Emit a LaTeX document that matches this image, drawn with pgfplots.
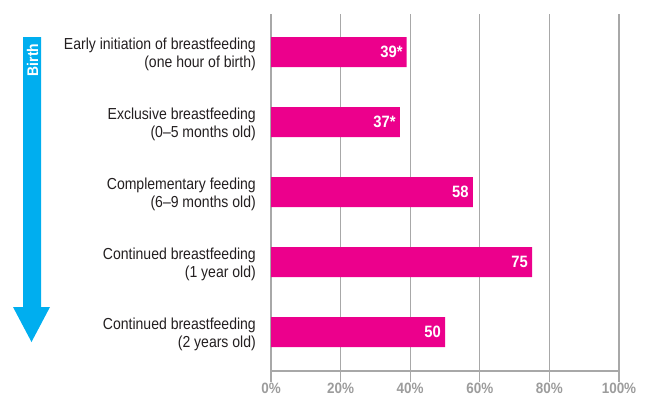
\documentclass[border=0pt]{standalone}
\usepackage{fontspec}
\setmainfont{Liberation Sans}[FakeStretch=0.9]
\newfontfamily\labfont{Liberation Sans}[FakeStretch=0.88]
\usepackage{pgfplots}
\pgfplotsset{compat=1.18}
\definecolor{barmag}{HTML}{EC008C}
\definecolor{arrowblue}{HTML}{00AEEF}
\definecolor{gridgray}{HTML}{A8A8A8}
\definecolor{ticklab}{HTML}{9C9C9C}
\definecolor{labtext}{HTML}{231F20}
\begin{document}
\begin{tikzpicture}[x=1bp,y=1bp]
\useasboundingbox (0,0) rectangle (647,405);
% timeline arrow
\fill[arrowblue] (23,368) -- (41,368) -- (41,98) -- (50,98) -- (31.5,63) -- (13,98) -- (23,98) -- cycle;
\node[rotate=90, text=white, font=\fontsize{15.5}{18}\selectfont\bfseries, inner sep=0pt] at (32.5,345) {Birth};
\begin{axis}[
  at={(271bp,34bp)}, anchor=south west,
  scale only axis, width=348bp, height=357bp,
  xbar, bar width=30bp,
  xmin=0, xmax=100,
  ymin=-0.557, ymax=4.543,
  separate axis lines,
  axis x line*=bottom, axis y line*=left,
  x axis line style={draw=gridgray, line width=1.2bp},
  y axis line style={draw=none},
  xtick={0,20,40,60,80,100},
  xmajorgrids, grid style={draw=gridgray, line width=1.2bp},
  tick align=outside, major tick length=11bp,
  xtick style={draw=gridgray, line width=1.2bp},
  ytick style={draw=none},
  /pgf/number format/assume math mode=true,
  xticklabel={\pgfmathprintnumber{\tick}\%},
  xticklabel style={font=\fontsize{15}{18}\selectfont\bfseries, text=ticklab, inner sep=0pt, yshift=-1bp},
  ytick={0,1,2,3,4},
  yticklabels={{Continued breastfeeding\\(2 years old)},
               {Continued breastfeeding\\(1 year old)},
               {Complementary feeding\\(6–9 months old)},
               {Exclusive breastfeeding\\(0–5 months old)},
               {Early initiation of breastfeeding\\(one hour of birth)}},
  yticklabel style={align=right, font=\labfont\fontsize{16}{18}\selectfont, text=labtext, inner sep=0pt, xshift=-4bp, yshift=-2bp},
  point meta=explicit symbolic,
  nodes near coords,
  nodes near coords style={anchor=east, inner sep=0pt, xshift=-4bp, text=white, font=\fontsize{16.5}{18}\selectfont\bfseries},
]
\addplot[fill=barmag, draw=none] coordinates {
  (50,0) [50]
  (75,1) [75]
  (58,2) [58]
  (37,3) [37*]
  (39,4) [39*]
};
\end{axis}
\end{tikzpicture}
\end{document}
